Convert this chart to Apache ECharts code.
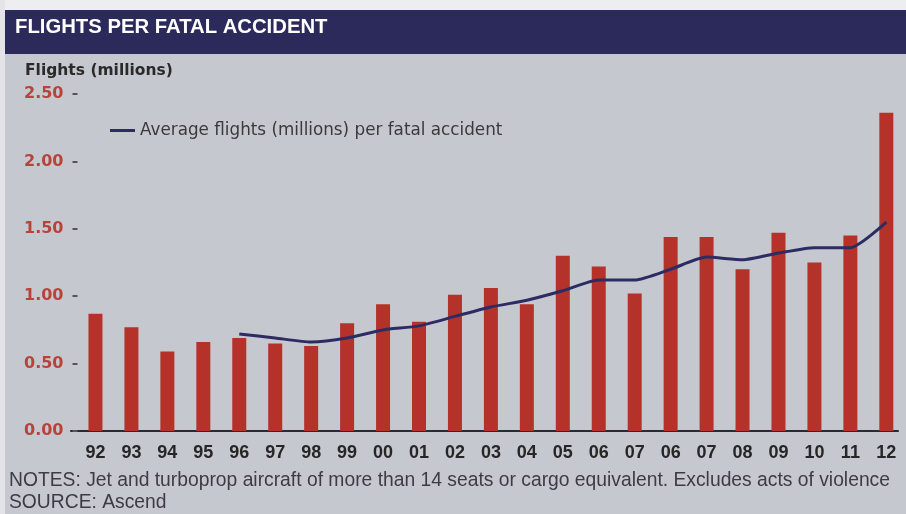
<!DOCTYPE html>
<html>
<head>
<meta charset="utf-8">
<script src="https://cdn.jsdelivr.net/npm/echarts@6/dist/echarts.min.js"></script>
<style>
html,body{margin:0;padding:0;background:#ffffff;}
#chart{width:906px;height:514px;}
</style>
</head>
<body>
<div id="chart"></div>
<script>
var categories = ['92','93','94','95','96','97','98','99','00','01','02','03','04','05','06','07','06','07','08','09','10','11','12'];
var barValues = [0.87,0.77,0.59,0.66,0.69,0.65,0.63,0.80,0.94,0.81,1.01,1.06,0.94,1.30,1.22,1.02,1.44,1.44,1.20,1.47,1.25,1.45,2.36];
var avgValues = [null,null,null,null,0.72,0.69,0.66,0.69,0.75,0.78,0.85,0.92,0.97,1.04,1.12,1.12,1.20,1.29,1.27,1.32,1.36,1.36,1.55];
var yTicks = {min:0, max:2.5, interval:0.5};
var titleText = 'FLIGHTS PER FATAL ACCIDENT';
var yTitle = 'Flights (millions)';
var lineName = 'Average flights (millions) per fatal accident';
var notesText = 'NOTES: Jet and turboprop aircraft of more than 14 seats or cargo equivalent. Excludes acts of violence';
var sourceText = 'SOURCE: Ascend';

var chart = echarts.init(document.getElementById('chart'), null, {renderer:'canvas'});
chart.setOption({
  backgroundColor: '#c6c8d0',
  animation: false,
  graphic: [
    {type:'rect', left:0, top:0, shape:{width:906, height:10}, style:{fill:'#eeeef0'}, z:-1},
    {type:'rect', left:0, top:0, shape:{width:5, height:514}, style:{fill:'#e4e4e8'}, z:-1},
    {type:'rect', left:5, top:10, shape:{width:901, height:44}, style:{fill:'#2c2a5b'}, z:-1},
    {type:'text', left:15, top:17, style:{text:titleText, fill:'#ffffff', font:'bold 20.3px "Liberation Sans", Arial, sans-serif'}},
    {type:'text', left:25, top:63, style:{text:yTitle, fill:'#2a2a2a', font:'bold 15.5px "DejaVu Sans", sans-serif'}},
    {type:'text', left:9, top:471, style:{text:notesText, fill:'#3c3c44', font:'19.3px "Liberation Sans", Arial, sans-serif'}},
    {type:'text', left:9, top:493, style:{text:sourceText, fill:'#3c3c44', font:'19.3px "Liberation Sans", Arial, sans-serif'}}
  ],
  legend: {
    data: [lineName],
    left: 105, top: 117,
    icon: 'rect', itemWidth: 25, itemHeight: 3,
    textStyle: {color:'#3a3a3a', fontFamily:'"DejaVu Sans", sans-serif', fontSize:16.8}
  },
  grid: [
    {left:77.5, right:1.7, top:94, bottom:83},
    {left:71, right:8, top:94, bottom:83}
  ],
  xAxis: [
    {type:'category', gridIndex:0, data:categories, boundaryGap:true,
     axisLine:{show:false}, axisTick:{show:false},
     axisLabel:{color:'#262626', fontWeight:'bold', fontFamily:'"Liberation Sans", Arial, sans-serif', fontSize:18, margin:13, interval:0}},
    {type:'category', gridIndex:1, data:categories,
     axisLine:{show:true, lineStyle:{color:'#2a2a33', width:2}}, axisTick:{show:false}, axisLabel:{show:false}}
  ],
  yAxis: [
    {type:'value', gridIndex:0, min:yTicks.min, max:yTicks.max, interval:yTicks.interval,
     splitLine:{show:false}, axisLine:{show:false},
     axisTick:{show:true, length:5, lineStyle:{color:'#55555c', width:2}},
     axisLabel:{color:'#b6443a', fontWeight:'bold', fontFamily:'"DejaVu Sans", sans-serif', fontSize:16, margin:14,
       formatter:function(v){return v.toFixed(2);}}},
    {type:'value', gridIndex:1, min:yTicks.min, max:yTicks.max, show:false}
  ],
  series: [
    {type:'bar', name:'Flights', xAxisIndex:0, yAxisIndex:0, data:barValues, barWidth:14,
     itemStyle:{color:'#b5322b'}},
    {type:'line', name:lineName, xAxisIndex:0, yAxisIndex:0, data:avgValues, showSymbol:false, smooth:0.2,
     lineStyle:{color:'#2d2b63', width:3}, itemStyle:{color:'#2d2b63'}}
  ]
});
</script>
</body>
</html>
